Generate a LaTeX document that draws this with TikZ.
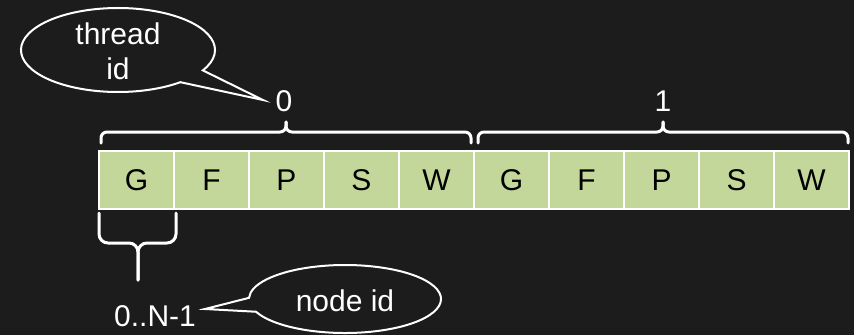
\documentclass[tikz,border=0pt]{standalone}
\usepackage{fontspec}
\setmainfont{Liberation Sans}
\usetikzlibrary{calc}
\begin{document}
\begin{tikzpicture}[x=1pt,y=1pt,
  cellbox/.style={draw=white,line width=2pt,fill=cellgreen,minimum width=75pt,minimum height=58pt,inner sep=0pt,text=black,font=\fontsize{30}{36}\selectfont},
  lbl/.style={text=white,inner sep=0pt,font=\fontsize{30}{36}\selectfont},
  bracepath/.style={draw=white,line width=3pt,rounded corners=6pt,line cap=round},
  callout/.style={draw=white,line width=2pt,line join=miter}]
\definecolor{cellgreen}{HTML}{C4D79B}
\definecolor{bg}{HTML}{1C1C1C}
\fill[bg] (0,0) rectangle (854,-335);
\useasboundingbox (0,0) rectangle (854,-335);
% cells
\foreach \t [count=\i] in {G,F,P,S,W,G,F,P,S,W}{
  \node[cellbox] (c\i) at ({136.5+75*(\i-1)},-180) {\t};
}
% thread labels
\node[lbl] (t0) at (284,-101) {0};
\node[lbl] (t1) at (663,-101) {1};
% top braces
\draw[bracepath] (101,-143) -- (101,-132) -- (286,-132) -- (286,-122);
\draw[bracepath] (286,-122) -- (286,-132) -- (471,-132) -- (471,-143);
\draw[bracepath] (478,-143) -- (478,-132) -- (663,-132) -- (663,-122);
\draw[bracepath] (663,-122) -- (663,-132) -- (848,-132) -- (848,-143);
% bottom brace
\draw[bracepath,rounded corners=9pt] (99,-213) -- (99,-243) -- (138,-243) -- (138,-280);
\draw[bracepath,rounded corners=9pt] (138,-280) -- (138,-243) -- (176,-243) -- (176,-213);
\node[lbl,anchor=base,text depth=0pt] (nrange) at (155,-326) {0..N-1};
% thread id callout
\coordinate (tc) at (118,-50);
\coordinate (ttip) at (263,-100);
\draw[callout] ($(tc)+(-29:97 and 42)$) arc[start angle=-29,end angle=310,x radius=97,y radius=42] -- (ttip) -- cycle;
\node[lbl,align=center,font=\fontsize{30}{35}\selectfont] (thr) at (118,-51) {thread\\id};
% node id callout
\coordinate (nc) at (345,-299);
\coordinate (ntip) at (205,-309);
\draw[callout] ($(nc)+(202:96 and 34)$) arc[start angle=202,end angle=538,x radius=96,y radius=34] -- (ntip) -- cycle;
\node[lbl] (nid) at (345,-301) {node id};
\end{tikzpicture}
\end{document}
